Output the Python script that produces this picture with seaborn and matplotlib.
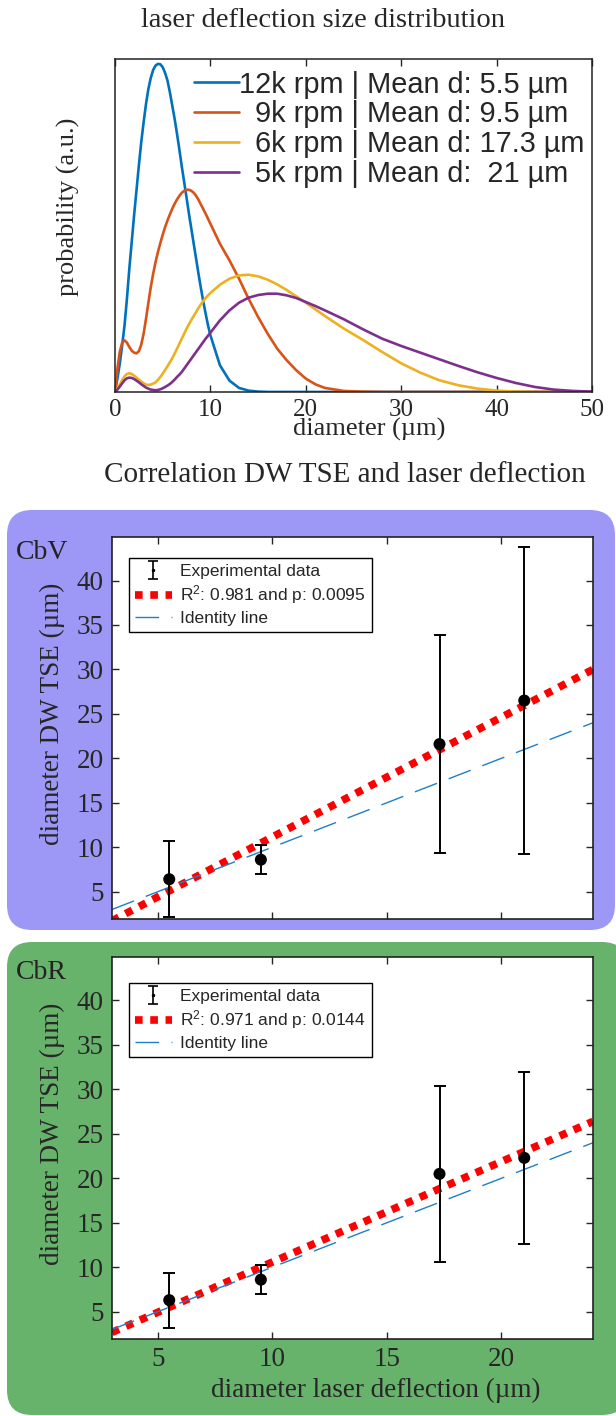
import matplotlib
matplotlib.use("Agg")
import matplotlib.pyplot as plt
from matplotlib.patches import FancyBboxPatch
import numpy as np
import pandas as pd
import seaborn as sns

# size distribution curves (laser deflection), arbitrary units
diameter = [0, 0.25, 0.5, 0.75, 1, 1.25, 1.5, 1.75, 2, 2.25, 2.5, 2.75, 3, 3.25,
            3.5, 3.75, 4, 4.25, 4.5, 4.75, 5, 5.25, 5.5, 5.75, 6, 6.25, 6.5, 6.75,
            7, 7.25, 7.5, 7.75, 8, 8.25, 8.5, 8.75, 9, 9.25, 9.5, 9.75, 10,
            11, 12, 13, 14, 15, 16, 17, 18, 19, 20, 21, 22,
            24, 26, 28, 30, 32, 34, 36, 38, 40, 42, 44, 46, 48, 50]
prob_12k = [0, .04, .085, .14, .2, .28, .37, .45, .53, .605, .68, .75, .81, .865,
            .91, .943, .967, .98, .985, .984, .975, .958, .935, .9, .86, .82, .775,
            .727, .677, .63, .583, .535, .49, .445, .40, .355, .312, .272, .235, .2,
            .17,
            .08, .034, .012, .004, .001, 0, 0, 0, 0, 0, 0, 0,
            0, 0, 0, 0, 0, 0, 0, 0, 0, 0, 0, 0, 0, 0]
prob_9k = [0, .07, .12, .148, .155, .148, .135, .124, .118, .116, .122, .142, .175,
           .22, .268, .315, .355, .39, .42, .447, .472, .495, .515, .533, .55, .565,
           .578, .589, .598, .604, .607, .607, .604, .598, .589, .577, .563, .549,
           .535, .52, .505,
           .445, .395, .34, .28, .225, .175, .13, .095, .065, .04, .023, .012,
           .003, .001, 0, 0, 0, 0, 0, 0, 0, 0, 0, 0, 0, 0]
prob_6k = [0, .01, .022, .036, .047, .054, .056, .054, .049, .043, .037, .031, .026,
           .022, .021, .022, .025, .029, .036, .045, .055, .066, .077, .089, .101,
           .115, .13, .145, .16, .175, .19, .203, .216, .228, .24, .252, .263, .273,
           .282, .29, .297,
           .322, .34, .35, .352, .347, .337, .323, .306, .287, .268, .248, .228,
           .19, .156, .12, .086, .058, .035, .02, .01, .004, .001, 0, 0, 0, 0]
prob_5k = [0, .007, .016, .026, .035, .041, .043, .042, .039, .034, .029, .023, .018,
           .013, .01, .007, .006, .005, .006, .008, .011, .015, .019, .024, .03,
           .037, .045, .052, .06, .07, .08, .09, .1, .11, .12, .13, .14, .15, .16,
           .169, .178,
           .215, .245, .268, .283, .291, .295, .295, .29, .282, .27, .258, .245,
           .218, .188, .16, .138, .118, .098, .078, .059, .042, .027, .015, .007,
           .003, .001]
speed_labels = ["12k rpm | Mean d: 5.5 µm", "  9k rpm | Mean d: 9.5 µm",
                "  6k rpm | Mean d: 17.3 µm", "  5k rpm | Mean d:  21 µm"]
speed_colors = ["#0072BD", "#D95319", "#EDB120", "#7E2F8E"]

# DW TSE vs laser deflection
deflection = [5.5, 9.5, 17.3, 21.0]
cbv_mean = [6.4, 8.6, 21.6, 26.5]
cbv_err = [4.3, 1.65, 12.25, 17.3]
cbr_mean = [6.3, 8.6, 20.5, 22.3]
cbr_err = [3.1, 1.6, 9.9, 9.7]
cbv_fit = (1.346, -2.31)   # slope, intercept
cbr_fit = (1.13, -0.72)
cbv_label = "R$^2$: 0.981 and p: 0.0095"
cbr_label = "R$^2$: 0.971 and p: 0.0144"
x_range = [3, 24]

sns.set_style("ticks")
plt.rcParams["font.family"] = ["Liberation Serif", "DejaVu Serif"]
plt.rcParams["mathtext.fontset"] = "custom"
plt.rcParams["mathtext.rm"] = "Liberation Sans"
plt.rcParams["mathtext.it"] = "Liberation Sans"
plt.rcParams["axes.edgecolor"] = "#222222"

fig = plt.figure(figsize=(6.16, 14.16), dpi=100)
fig.patch.set_facecolor("white")

# coloured rounded panels behind the scatter plots
for (x0, y0, w, h), col in [((0.07, 4.86, 6.08, 4.20), "#9d97f5"),
                            ((0.07, 0.01, 6.20, 4.73), "#68b36c")]:
    box = FancyBboxPatch((x0, y0), w, h, boxstyle="round,pad=0,rounding_size=0.25",
                         transform=fig.dpi_scale_trans, facecolor=col,
                         edgecolor="none", zorder=-1)
    fig.patches.append(box)

# ---- distribution plot
ax0 = fig.add_axes([0.1867, 0.7232, 0.7744, 0.2352])
dist_df = pd.concat([
    pd.DataFrame({"diameter": diameter, "probability": p, "speed": lab})
    for p, lab in zip([prob_12k, prob_9k, prob_6k, prob_5k], speed_labels)
])
sns.lineplot(data=dist_df, x="diameter", y="probability", hue="speed",
             hue_order=speed_labels, palette=speed_colors, linewidth=1.9,
             ax=ax0)
handles, labels = ax0.get_legend_handles_labels()
ax0.legend(handles, labels, loc="upper left", bbox_to_anchor=(0.166, 0.965),
           frameon=False, borderaxespad=0, borderpad=0, handlelength=1.55,
           handletextpad=0.0, labelspacing=0.06,
           prop={"family": "Liberation Sans", "size": 20.8})
ax0.set_xlim(0, 50)
ax0.set_ylim(0, 1.0)
ax0.set_xticks([0, 10, 20, 30, 40, 50])
ax0.set_yticks([])
ax0.tick_params(axis="x", direction="in", length=5, width=1, top=True,
                labelsize=18, pad=5)
ax0.set_xlabel("diameter (µm)", fontsize=19)
ax0.xaxis.set_label_coords(0.532, -0.114)
ax0.xaxis.label.set_va("center")
ax0.set_ylabel("probability (a.u.)", fontsize=19)
ax0.yaxis.set_label_coords(-0.0985, 0.556)
ax0.yaxis.label.set_va("center")
for sp in ax0.spines.values():
    sp.set_linewidth(1.1)

fig.text(0.525, 0.9855, "laser deflection size distribution", fontsize=20.5,
         ha="center", va="center")
fig.text(0.56, 0.6645, "Correlation DW TSE and laser deflection", fontsize=21,
         ha="center", va="center")


def correlation_panel(rect, mean, err, fit, fit_label, legend_top, show_x):
    ax = fig.add_axes(rect)
    ax.errorbar(deflection, mean, yerr=err, fmt="none", ecolor="black",
                elinewidth=1.4, capsize=4.5, capthick=1.4, zorder=3)
    xs = np.array(x_range, dtype=float)
    sns.lineplot(x=xs, y=fit[0] * xs + fit[1], color="red", linewidth=5.5,
                 linestyle=(0, (1, 1.0)), ax=ax, zorder=2)
    fit_line = ax.get_lines()[-1]
    sns.lineplot(x=xs, y=xs, color="#1f7fc6", linewidth=1.0,
                 linestyle=(0, (17, 9)), ax=ax, zorder=2)
    ident_line = ax.get_lines()[-1]
    sns.scatterplot(x=deflection, y=mean, color="black", s=75, edgecolor="none",
                    ax=ax, zorder=4)
    proxy = ax.errorbar([np.nan], [np.nan], yerr=[1.0], fmt=".", ms=3,
                        color="black", elinewidth=1.2, capsize=3.5, capthick=1.2)
    ax.legend([proxy, fit_line, ident_line],
              ["Experimental data", fit_label, "Identity line"],
              loc="upper left", bbox_to_anchor=(0.0353, legend_top),
              borderaxespad=0, fancybox=False, edgecolor="black", framealpha=1,
              handlelength=2.1, handletextpad=0.5, labelspacing=0.25,
              borderpad=0.35, prop={"family": "Liberation Sans", "size": 12.5})
    ax.get_legend().get_frame().set_linewidth(1.0)
    ax.set_xlim(*x_range)
    ax.set_ylim(1.93, 44.9)
    ax.set_xticks([5, 10, 15, 20])
    ax.set_yticks([5, 10, 15, 20, 25, 30, 35, 40])
    ax.tick_params(direction="in", length=5, width=1, top=True, right=True,
                   labelsize=19.5, pad=6)
    if not show_x:
        ax.tick_params(axis="x", labelbottom=False)
    ax.set_ylabel("diameter DW TSE (µm)", fontsize=19.5)
    ax.yaxis.set_label_coords(-0.123, 0.537)
    ax.yaxis.label.set_va("center")
    for sp in ax.spines.values():
        sp.set_linewidth(1.2)
    return ax


ax1 = correlation_panel([0.1818, 0.351, 0.7808, 0.2698], cbv_mean, cbv_err,
                        cbv_fit, cbv_label, 0.945, False)
ax2 = correlation_panel([0.1818, 0.0544, 0.7808, 0.2698], cbr_mean, cbr_err,
                        cbr_fit, cbr_label, 0.932, True)
ax2.set_xlabel("diameter laser deflection (µm)", fontsize=19.5)
ax2.xaxis.set_label_coords(0.549, -0.1335)
ax2.xaxis.label.set_va("center")

fig.text(0.026, 0.610, "CbV", fontsize=20, ha="left", va="center", color="#222222")
fig.text(0.026, 0.3129, "CbR", fontsize=20, ha="left", va="center", color="#222222")

fig.savefig("out.png", dpi=100)
